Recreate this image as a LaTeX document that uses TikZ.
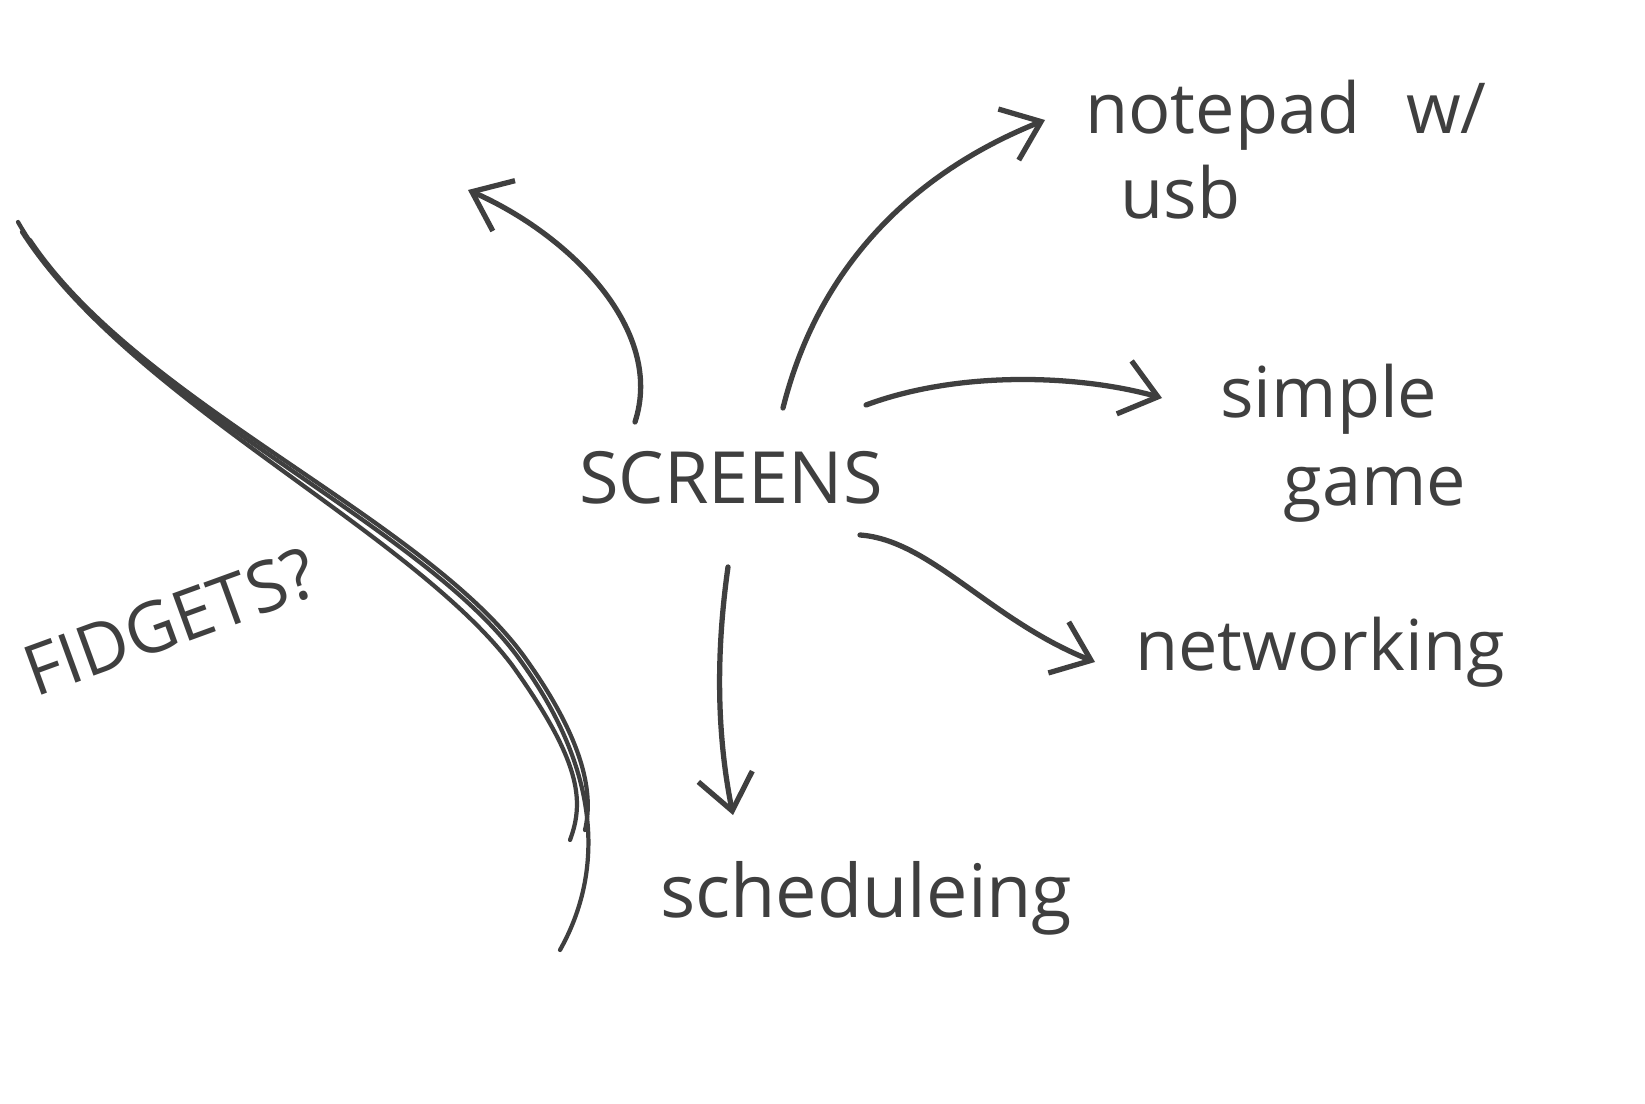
\documentclass[tikz,border=0pt]{standalone}
\usepackage{fontspec}
\setmainfont{Open Sans}
\usetikzlibrary{arrows.meta}

\begin{document}
\begin{tikzpicture}[x=0.02cm, y=-0.02cm,
% common options for the words:
word/.style = {text=ink, inner sep=0, font=\fontsize{40}{46}\selectfont},
% common options for the arrows:
link/.style = {draw=ink, line width=3pt, line cap=round,
            -{Straight Barb[length=7mm, width=11mm, line width=3pt]}},
stroke/.style = {draw=ink, line width=2.4pt, line cap=round}]
\definecolor{ink}{HTML}{3F3F3F}
\useasboundingbox[fill=white] (0,0) rectangle (1645,1104);
\node[word, font=\fontsize{41}{46}\selectfont] (screens) at (731,478) {SCREENS};
\node[word, align=left, anchor=north west] (notepad) at (1085,80) {notepad\hspace{0.65em}w/\\[2pt]\hspace{0.5em}usb};
\node[word, align=left, anchor=north west] (simple) at (1220,364) {simple\\[4pt]\hspace{0.9em}game};
\node[word, anchor=west] (networking) at (1135,652) {networking};
\node[word, anchor=west, font=\fontsize{42}{46}\selectfont] (scheduling) at (660,898) {scheduleing};
\node[word, rotate=20] (fidgets) at (170,622) {FIDGETS?};
\coordinate (up) at (468,190);
\coordinate (pad) at (1045,120);
\coordinate (a1) at (635,422);
\coordinate (a2) at (783,408);
\coordinate (a3) at (866,405);
\coordinate (a4) at (860,535);
\coordinate (a5) at (728,567);
\draw[link] (a1) .. controls (665,330) and (570,235) .. (up);
\draw[link] (a2) .. controls (820,260) and (920,170) .. (pad);
\draw[link] (a3) .. controls (960,370) and (1080,375) .. (1162,398);
\draw[link] (a4) .. controls (930,540) and (990,620) .. (1095,662);
\draw[link] (a5) .. controls (712,680) and (722,760) .. (733,815);
% the long curve on the left
\draw[stroke] (18,222) .. controls (120,400) and (420,520) .. (520,660) .. controls (600,770) and (605,870) .. (560,950);
\draw[stroke] (22,232) .. controls (130,400) and (410,530) .. (512,665) .. controls (580,760) and (585,800) .. (570,840);
\draw[stroke] (30,240) .. controls (140,405) and (430,520) .. (528,662) .. controls (590,750) and (592,800) .. (585,830);
\end{tikzpicture}
\end{document}
